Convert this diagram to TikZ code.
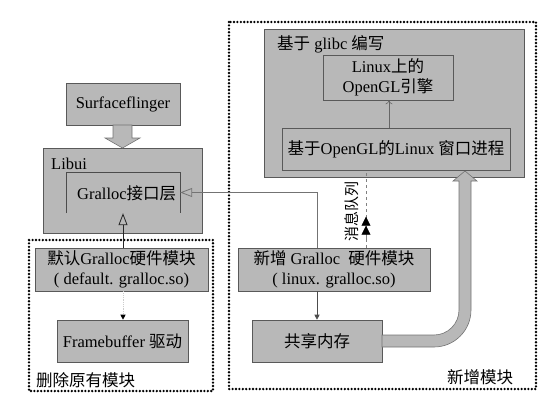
\documentclass[tikz,border=0pt]{standalone}
\usepackage{fontspec}
\setmainfont{Liberation Serif}
\newfontfamily\cjk{Noto Sans CJK SC}
\usetikzlibrary{arrows.meta}
\newcommand\myfs{\fontsize{16.5}{19.5}\selectfont}
\begin{document}
\begin{tikzpicture}[x=1pt,y=-1pt,
  box/.style={draw=black!65,line width=0.6pt,fill=black!28,inner sep=0pt,align=center,font=\myfs},
  frame/.style={line width=2.6pt,dash pattern=on 0pt off 3.4pt,line cap=round},
  lbl/.style={inner sep=0pt,font=\myfs},
  blockarrow/.style={draw=black!55,line width=0.6pt,fill=black!28}]
\useasboundingbox (0,0) rectangle (557,416);
% frames
\draw[frame] (229,22) rectangle (536,389);
\draw[frame] (29,240) rectangle (213,391);
% left column
\node[box,minimum width=114pt,minimum height=42pt] (sf) at (123,104) {Surfaceflinger};
\node[box,minimum width=159pt,minimum height=85pt] (libui) at (122.5,190.5) {};
\node[lbl,anchor=west] (libuil) at (51,164) {Libui};
\node[inner sep=0pt,minimum width=114pt,minimum height=41pt] (gic) at (123,192.5) {};
\draw[black!70,line width=0.6pt] (gic.south west) |- (gic.north east) -- (gic.south east);
\node[lbl,anchor=west] (gict) at (77,193) {Gralloc{\cjk 接口层}};
\node[box,minimum width=173pt,minimum height=43pt] (moren) at (121.5,269.5) {{\cjk 默认}Gralloc{\cjk 硬件模块}\\( default. gralloc.so)};
\node[box,minimum width=131pt,minimum height=42pt] (fb) at (122.5,341) {Framebuffer {\cjk 驱动}};
\node[lbl,anchor=west] (dell) at (36,380) {\cjk 删除原有模块};
% right column
\node[box,minimum width=260pt,minimum height=148pt] (glibc) at (394,103) {};
\node[lbl,anchor=west] (glibcl) at (277,44) {{\cjk 基于} glibc {\cjk 编写}};
\node[box,minimum width=130pt,minimum height=45pt] (engine) at (388,77.5) {Linux{\cjk 上的}\\OpenGL{\cjk 引擎}};
\node[box,minimum width=228pt,minimum height=42pt] (win) at (396,149) {{\cjk 基于}OpenGL{\cjk 的}Linux {\cjk 窗口进程}};
\node[box,minimum width=192pt,minimum height=43pt] (xz) at (334,269.5) {{\cjk 新增} Gralloc\ \ {\cjk 硬件模块}\\( linux. gralloc.so)};
\node[box,minimum width=130pt,minimum height=42pt] (shm) at (317,341) {\cjk 共享内存};
\node[lbl] (newl) at (480,377) {\cjk 新增模块};
\node[lbl,rotate=90,font=\fontsize{15}{17}\selectfont] (mql) at (352,211) {\cjk 消息队列};
% block arrows
\draw[blockarrow] (113,125) -- (113,138) -- (105,138) -- (122.5,148) -- (140,138) -- (132,138) -- (132,125) -- cycle;
\draw[blockarrow] (382,335) -- (434,335) arc[start angle=-90,end angle=0,radius=25pt]
  -- (459,181) -- (453,181) -- (465,171) -- (477,181) -- (471,181)
  -- (471,310) arc[start angle=0,end angle=-90,radius=37pt] -- (382,347) -- cycle;
% connectors
\draw[black!55,line width=0.8pt,-{Triangle[open,length=12pt,width=9pt]}] ([xshift=-17pt]xz.north) |- (gic.east);
\draw[black!85,line width=0.8pt,-{Triangle[open,length=12pt,width=9pt]}] ([xshift=1.5pt]moren.north) -- ([xshift=1.5pt]moren.north |- gic.south);
\draw[black!20,densely dotted,line width=0.8pt,-{Triangle[black,length=5pt,width=5pt]}] ([xshift=1.5pt]moren.south) -- ([xshift=1.5pt]moren.south |- fb.north);
\draw[black!70,line width=0.6pt,-{Triangle[length=5pt,width=5pt]}] ([xshift=-17pt]xz.south) -- (shm.north);
\draw[black!60,line width=0.6pt,-{To[length=4pt,width=7pt]}] ([xshift=-7pt]win.north) -- ([xshift=-7pt]win.north |- engine.south);
\draw[black!50,dashed,line width=0.6pt] ([xshift=32pt]xz.north) -- ([xshift=-30pt]win.south);
\coordinate (mqa) at ([xshift=32pt,yshift=6pt]xz.north);
\coordinate (mqb) at ([xshift=32pt,yshift=31pt]xz.north);
\draw[black!50,line width=0.6pt,-{Triangle[black,length=9pt,width=9pt]Triangle[black,length=9pt,width=9pt]}] (mqa) -- (mqb);
\end{tikzpicture}
\end{document}
